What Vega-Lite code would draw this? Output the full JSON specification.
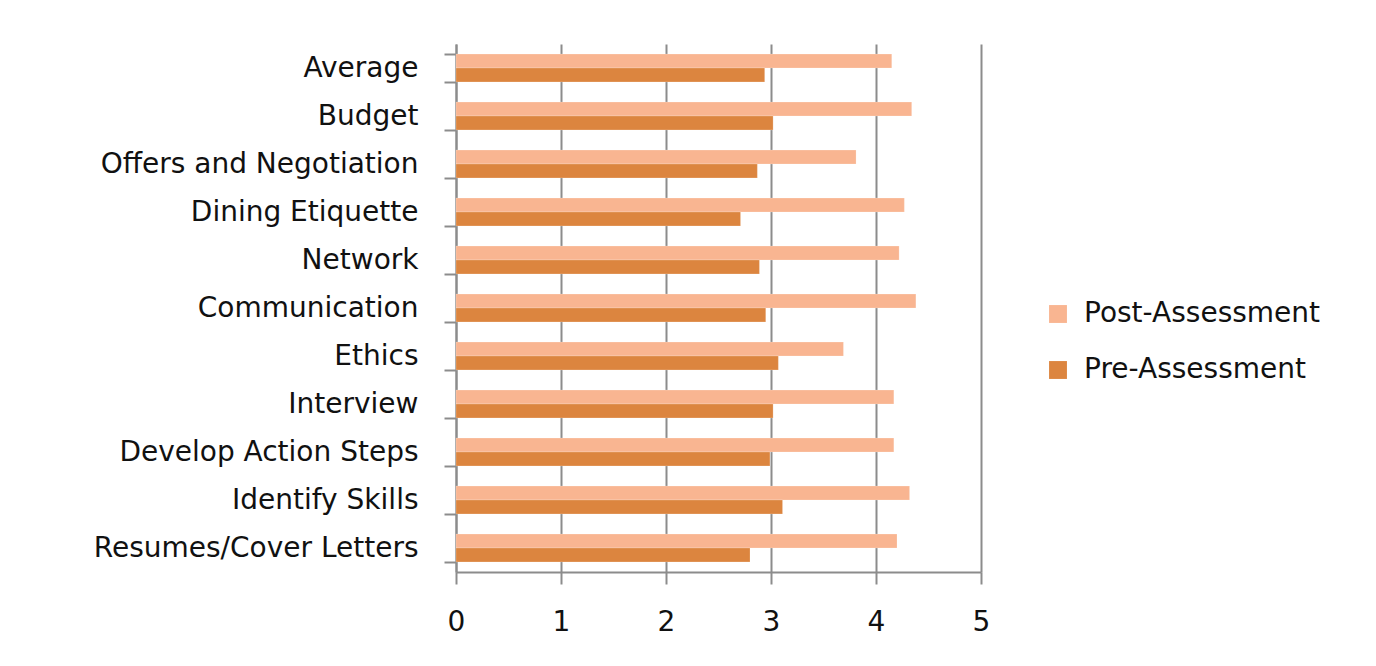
{
  "$schema": "https://vega.github.io/schema/vega-lite/v6.json",
  "width": 525,
  "height": 528,
  "autosize": "none",
  "padding": {"left": 456, "top": 44, "right": 395, "bottom": 94},
  "background": "white",
  "data": {
    "values": [
      {"skill": "Average", "assessment": "Post-Assessment", "score": 4.15},
      {"skill": "Average", "assessment": "Pre-Assessment", "score": 2.94},
      {"skill": "Budget", "assessment": "Post-Assessment", "score": 4.34},
      {"skill": "Budget", "assessment": "Pre-Assessment", "score": 3.02},
      {"skill": "Offers and Negotiation", "assessment": "Post-Assessment", "score": 3.81},
      {"skill": "Offers and Negotiation", "assessment": "Pre-Assessment", "score": 2.87},
      {"skill": "Dining Etiquette", "assessment": "Post-Assessment", "score": 4.27},
      {"skill": "Dining Etiquette", "assessment": "Pre-Assessment", "score": 2.71},
      {"skill": "Network", "assessment": "Post-Assessment", "score": 4.22},
      {"skill": "Network", "assessment": "Pre-Assessment", "score": 2.89},
      {"skill": "Communication", "assessment": "Post-Assessment", "score": 4.38},
      {"skill": "Communication", "assessment": "Pre-Assessment", "score": 2.95},
      {"skill": "Ethics", "assessment": "Post-Assessment", "score": 3.69},
      {"skill": "Ethics", "assessment": "Pre-Assessment", "score": 3.07},
      {"skill": "Interview", "assessment": "Post-Assessment", "score": 4.17},
      {"skill": "Interview", "assessment": "Pre-Assessment", "score": 3.02},
      {"skill": "Develop Action Steps", "assessment": "Post-Assessment", "score": 4.17},
      {"skill": "Develop Action Steps", "assessment": "Pre-Assessment", "score": 2.99},
      {"skill": "Identify Skills", "assessment": "Post-Assessment", "score": 4.32},
      {"skill": "Identify Skills", "assessment": "Pre-Assessment", "score": 3.11},
      {"skill": "Resumes/Cover Letters", "assessment": "Post-Assessment", "score": 4.20},
      {"skill": "Resumes/Cover Letters", "assessment": "Pre-Assessment", "score": 2.80}
    ]
  },
  "mark": {"type": "bar", "stroke": "white", "strokeOpacity": 0.4, "strokeWidth": 0.5},
  "encoding": {
    "y": {
      "field": "skill",
      "type": "nominal",
      "sort": null,
      "scale": {"paddingInner": 0.42, "paddingOuter": 0.21},
      "axis": {
        "title": null,
        "tickBand": "extent",
        "tickSize": 12,
        "tickColor": "#8c8c8c",
        "tickWidth": 2,
        "domainColor": "#8c8c8c",
        "domainWidth": 2,
        "labelFont": "DejaVu Sans",
        "labelFontSize": 28,
        "labelColor": "#111111",
        "labelPadding": 26,
        "labelLimit": 500,
        "grid": false
      }
    },
    "yOffset": {"field": "assessment", "type": "nominal", "sort": ["Post-Assessment", "Pre-Assessment"]},
    "x": {
      "field": "score",
      "type": "quantitative",
      "scale": {"domain": [0, 5], "nice": false},
      "axis": {
        "title": null,
        "values": [0, 1, 2, 3, 4, 5],
        "format": "d",
        "labelFlush": false,
        "tickSize": 12,
        "tickColor": "#8c8c8c",
        "tickWidth": 2,
        "domainColor": "#8c8c8c",
        "domainWidth": 2,
        "grid": true,
        "gridColor": "#8c8c8c",
        "gridWidth": 2,
        "labelFont": "DejaVu Sans",
        "labelFontSize": 28,
        "labelColor": "#111111",
        "labelPadding": 24
      }
    },
    "color": {
      "field": "assessment",
      "type": "nominal",
      "scale": {"domain": ["Post-Assessment", "Pre-Assessment"], "range": ["#F9B591", "#DC853F"]},
      "legend": {
        "title": null,
        "orient": "none",
        "legendX": 588,
        "legendY": 256,
        "symbolType": "square",
        "symbolSize": 320,
        "symbolStrokeWidth": 0,
        "labelFont": "DejaVu Sans",
        "labelFontSize": 28,
        "labelColor": "#111111",
        "labelLimit": 500,
        "rowPadding": 28,
        "labelOffset": 12
      }
    }
  },
  "config": {"view": {"stroke": null}}
}
